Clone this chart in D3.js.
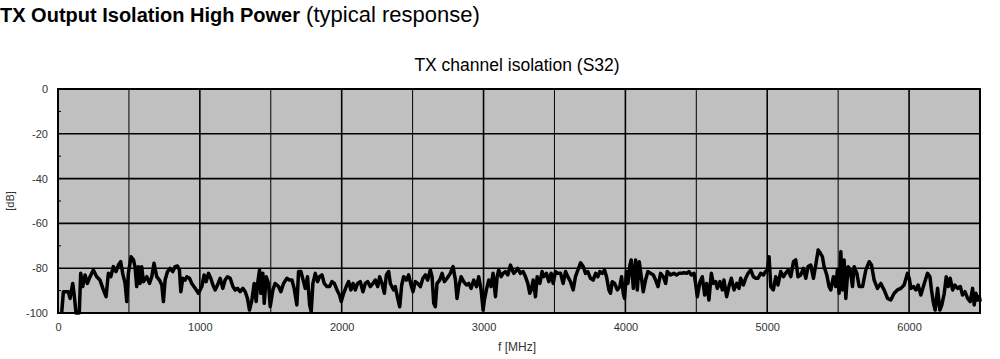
<!DOCTYPE html>
<html>
<head>
<meta charset="utf-8">
<script src="https://cdn.jsdelivr.net/npm/d3@7"></script>
<style>
  body { margin: 0; background: #fff; }
  svg { display: block; font-family: "Liberation Sans", Arial, sans-serif; }
</style>
</head>
<body>
<script>
// S32 isolation trace
var freqMHz = [26, 38, 73, 85, 104, 113, 127, 150, 160, 174, 191, 207, 226, 249, 273, 296, 320, 339, 355, 372,
  390, 409, 426, 442, 456, 473, 485, 496, 515, 532, 543, 555, 567, 579, 590, 602, 626, 645, 661, 677,
  696, 715, 732, 743, 755, 772, 790, 809, 826, 842, 856, 866, 880, 896, 908, 927, 943, 967, 990, 1014,
  1030, 1044, 1061, 1077, 1092, 1108, 1120, 1143, 1162, 1178, 1195, 1214, 1233, 1249, 1266, 1284, 1303, 1320, 1336, 1350,
  1367, 1383, 1397, 1407, 1421, 1430, 1444, 1454, 1468, 1484, 1496, 1515, 1531, 1555, 1571, 1590, 1614, 1632, 1649, 1665,
  1684, 1696, 1713, 1731, 1743, 1759, 1774, 1785, 1797, 1814, 1830, 1844, 1861, 1877, 1896, 1915, 1931, 1948, 1967, 1985,
  1997, 2014, 2032, 2049, 2065, 2080, 2096, 2112, 2131, 2150, 2166, 2183, 2202, 2221, 2237, 2254, 2268, 2284, 2301, 2315,
  2331, 2343, 2366, 2378, 2395, 2409, 2423, 2437, 2456, 2472, 2489, 2503, 2519, 2536, 2555, 2573, 2590, 2606, 2625, 2637,
  2649, 2660, 2672, 2691, 2708, 2724, 2743, 2766, 2785, 2802, 2813, 2825, 2842, 2860, 2879, 2896, 2912, 2931, 2950, 2966,
  2983, 2997, 3006, 3020, 3037, 3053, 3067, 3084, 3096, 3107, 3124, 3138, 3154, 3171, 3190, 3202, 3213, 3225, 3241, 3260,
  3279, 3296, 3312, 3326, 3336, 3350, 3366, 3378, 3397, 3413, 3425, 3444, 3460, 3477, 3491, 3507, 3523, 3543, 3561, 3578,
  3594, 3613, 3632, 3648, 3665, 3684, 3703, 3719, 3735, 3754, 3773, 3790, 3806, 3820, 3837, 3853, 3867, 3884, 3895, 3907,
  3924, 3943, 3961, 3973, 3985, 3994, 4008, 4018, 4032, 4041, 4056, 4072, 4084, 4098, 4112, 4126, 4142, 4159, 4178, 4197,
  4213, 4230, 4248, 4267, 4284, 4295, 4319, 4342, 4361, 4378, 4394, 4413, 4432, 4448, 4465, 4484, 4495, 4507, 4526, 4542,
  4559, 4573, 4589, 4606, 4620, 4637, 4648, 4667, 4684, 4695, 4714, 4730, 4747, 4766, 4785, 4801, 4813, 4832, 4848, 4865,
  4884, 4902, 4919, 4935, 4954, 4973, 4989, 5001, 5013, 5025, 5043, 5060, 5076, 5095, 5114, 5130, 5147, 5166, 5185, 5201,
  5217, 5236, 5255, 5272, 5288, 5307, 5326, 5342, 5359, 5373, 5389, 5401, 5420, 5436, 5448, 5467, 5483, 5495, 5507, 5519,
  5530, 5542, 5554, 5570, 5585, 5601, 5613, 5632, 5648, 5672, 5695, 5719, 5735, 5754, 5777, 5801, 5824, 5848, 5871, 5895,
  5918, 5942, 5965, 5989, 6001, 6013, 6031, 6048, 6064, 6083, 6107, 6130, 6147, 6158, 6172, 6184, 6201, 6217, 6231, 6248,
  6262, 6276, 6290, 6307, 6323, 6342, 6361, 6377, 6394, 6413, 6431, 6448, 6459, 6471, 6483, 6495, 6502];

var s32dB = [-100, -90.5, -90.5, -93.5, -86.8, -91.2, -100, -100, -82.3, -88.2, -83.0, -86.8, -83.8, -80.8, -83.8, -85.3, -89.7, -92.7, -82.3, -83.8,
  -79.3, -81.5, -78.6, -77.1, -82.3, -86.8, -94.9, -82.3, -74.9, -76.3, -79.3, -88.2, -79.3, -86.8, -79.3, -86.0, -83.8, -86.8, -83.8, -77.8,
  -83.8, -85.3, -87.5, -94.9, -85.3, -81.5, -80.1, -81.5, -79.3, -79.0, -80.8, -90.5, -84.5, -85.3, -83.8, -84.5, -86.8, -89.0, -91.2, -88.2,
  -83.0, -86.0, -82.3, -84.5, -87.5, -89.7, -88.2, -84.5, -89.0, -85.3, -83.8, -84.5, -88.2, -89.7, -89.0, -90.5, -89.0, -90.5, -93.5, -98.7,
  -94.2, -86.8, -94.9, -86.8, -80.8, -91.2, -82.3, -95.7, -83.8, -86.8, -97.2, -89.7, -86.8, -88.2, -90.5, -86.8, -84.5, -85.3, -85.3, -89.0,
  -96.4, -81.5, -81.5, -86.0, -89.0, -83.8, -96.4, -99.4, -86.8, -82.3, -86.0, -83.8, -83.0, -86.8, -88.2, -88.2, -86.0, -86.8, -89.7, -92.0,
  -94.9, -91.2, -88.2, -86.0, -89.7, -86.8, -89.7, -86.8, -86.0, -90.5, -86.8, -86.0, -88.2, -86.8, -85.3, -88.2, -83.8, -86.8, -91.2, -83.0,
  -81.5, -86.8, -89.7, -88.2, -93.5, -97.2, -87.5, -83.8, -85.3, -83.0, -87.5, -90.5, -86.0, -86.8, -88.2, -84.5, -83.0, -85.3, -80.8, -83.8,
  -95.7, -97.2, -86.8, -85.3, -82.3, -86.0, -84.5, -82.3, -79.3, -85.3, -93.5, -88.2, -83.8, -86.0, -87.5, -86.8, -89.0, -85.3, -88.2, -83.8,
  -89.7, -98.7, -94.2, -89.7, -85.3, -88.2, -82.3, -92.7, -83.8, -80.8, -83.8, -82.3, -81.5, -83.0, -78.6, -80.8, -82.3, -81.5, -80.1, -82.3,
  -81.5, -83.8, -86.8, -91.2, -89.7, -85.3, -92.7, -83.8, -86.8, -81.5, -83.8, -82.3, -86.0, -82.3, -86.8, -81.5, -82.3, -82.3, -86.8, -81.5,
  -83.8, -86.0, -89.7, -83.8, -80.8, -77.6, -79.3, -82.3, -81.5, -84.5, -85.3, -82.3, -83.8, -81.5, -82.3, -80.8, -83.8, -89.7, -91.2, -86.0,
  -86.8, -89.7, -88.2, -83.8, -91.2, -93.5, -81.5, -86.8, -78.6, -76.3, -89.0, -76.3, -89.7, -77.1, -83.8, -90.5, -85.3, -81.5, -82.3, -83.0,
  -85.3, -88.2, -82.3, -83.8, -86.8, -81.5, -83.0, -82.3, -83.0, -82.3, -82.3, -82.0, -82.3, -81.5, -83.0, -82.3, -86.8, -92.7, -86.0, -83.8,
  -92.0, -86.8, -94.2, -82.3, -86.8, -86.0, -89.0, -86.0, -89.7, -85.3, -92.7, -88.2, -84.5, -89.7, -86.8, -89.0, -84.5, -87.5, -84.5, -82.3,
  -80.8, -83.8, -84.5, -84.5, -82.3, -83.0, -81.5, -80.8, -74.9, -88.2, -89.7, -83.8, -87.5, -81.5, -83.8, -82.3, -80.8, -83.8, -77.1, -76.3,
  -83.8, -83.0, -80.1, -84.5, -79.3, -78.6, -84.5, -78.6, -71.9, -73.1, -74.9, -79.3, -83.0, -88.2, -89.7, -83.8, -88.2, -80.8, -91.2, -72.6,
  -89.7, -76.3, -93.5, -79.3, -80.8, -88.2, -79.3, -82.3, -88.2, -88.2, -80.8, -77.1, -78.6, -85.3, -89.0, -86.8, -89.7, -93.5, -94.2, -91.2,
  -89.7, -89.0, -87.5, -82.3, -84.5, -89.0, -88.2, -89.7, -87.5, -92.0, -86.8, -82.3, -83.8, -89.7, -95.7, -98.7, -89.0, -98.7, -96.4, -91.2,
  -83.8, -88.2, -84.5, -89.7, -87.5, -89.0, -88.2, -92.0, -90.5, -93.5, -94.9, -89.0, -96.4, -91.2, -94.2, -92.7, -94.9];

var xTicks = [0, 1000, 2000, 3000, 4000, 5000, 6000];
var xGrid = [500, 1000, 1500, 2000, 2500, 3000, 3500, 4000, 4500, 5000, 5500, 6000];
var yTicks = [0, -20, -40, -60, -80, -100];
var yMinor = [-10, -30, -50, -70, -90];

var screen = {width: 1000, height: 359};
var margins = {top: 89, right: 20, bottom: 46, left: 58};

var width = screen.width - margins.left - margins.right;
var height = screen.height - margins.top - margins.bottom;

var svg = d3.select("body").append("svg")
  .attr("width", screen.width)
  .attr("height", screen.height);

// page heading
var head = svg.append("text")
  .attr("x", 0)
  .attr("y", 22)
  .attr("fill", "#000");
head.append("tspan")
  .attr("font-weight", "bold")
  .attr("font-size", 20)
  .text("TX Output Isolation High Power");
head.append("tspan")
  .attr("font-size", 22)
  .text(" (typical response)");

var xScale = d3.scaleLinear().domain([0, 6500]).range([0, width]);
var yScale = d3.scaleLinear().domain([-100, 0]).range([height, 0]);

var graph = svg.append("g")
  .attr("transform", "translate(" + margins.left + "," + margins.top + ")");

graph.append("rect")
  .attr("width", width)
  .attr("height", height)
  .attr("fill", "#c0c0c0");

graph.selectAll(".vgrid")
  .data(xGrid)
  .enter()
  .append("line")
  .attr("x1", function(d) { return xScale(d); })
  .attr("x2", function(d) { return xScale(d); })
  .attr("y1", 0)
  .attr("y2", height)
  .attr("stroke", "#000")
  .attr("stroke-width", function(d) { return d % 1000 == 0 ? 1.6 : 1; });

graph.selectAll(".hgrid")
  .data(yTicks.filter(function(d) { return d > -100 && d < 0; }))
  .enter()
  .append("line")
  .attr("x1", 0)
  .attr("x2", width)
  .attr("y1", function(d) { return yScale(d); })
  .attr("y2", function(d) { return yScale(d); })
  .attr("stroke", "#000")
  .attr("stroke-width", 1.6);

graph.selectAll(".yminor")
  .data(yMinor)
  .enter()
  .append("line")
  .attr("x1", 0)
  .attr("x2", 3)
  .attr("y1", function(d) { return yScale(d); })
  .attr("y2", function(d) { return yScale(d); })
  .attr("stroke", "#000")
  .attr("stroke-width", 1);

var trace = d3.line()
  .x(function(d) { return xScale(d[0]); })
  .y(function(d) { return yScale(d[1]); });

graph.append("path")
  .datum(d3.zip(freqMHz, s32dB))
  .attr("d", trace)
  .attr("fill", "none")
  .attr("stroke", "#000")
  .attr("stroke-width", 3.5)
  .attr("stroke-linejoin", "round");

graph.append("rect")
  .attr("width", width)
  .attr("height", height)
  .attr("fill", "none")
  .attr("stroke", "#000")
  .attr("stroke-width", 2);

// axes: labels only, the frame is drawn above
var plain = function(d) { return String(d); };
var xAxis = d3.axisBottom(xScale).tickValues(xTicks).tickSize(0).tickPadding(10).tickFormat(plain);
var yAxis = d3.axisLeft(yScale).tickValues(yTicks).tickSize(0).tickPadding(10).tickFormat(plain);

graph.append("g")
  .attr("transform", "translate(0," + height + ")")
  .call(xAxis)
  .call(function(g) { g.select(".domain").remove(); })
  .selectAll("text")
  .attr("font-family", "Liberation Sans, Arial, sans-serif")
  .attr("font-size", 11)
  .attr("fill", "#333");

graph.append("g")
  .call(yAxis)
  .call(function(g) { g.select(".domain").remove(); })
  .selectAll("text")
  .attr("font-family", "Liberation Sans, Arial, sans-serif")
  .attr("font-size", 11)
  .attr("fill", "#333");

svg.append("text")
  .attr("x", 517)
  .attr("y", 71)
  .attr("text-anchor", "middle")
  .attr("font-size", 17.5)
  .attr("fill", "#000")
  .text("TX channel isolation (S32)");

svg.append("text")
  .attr("x", 517)
  .attr("y", 351)
  .attr("text-anchor", "middle")
  .attr("font-size", 12)
  .attr("fill", "#333")
  .text("f [MHz]");

svg.append("text")
  .attr("transform", "translate(14," + (margins.top + height / 2) + ") rotate(-90)")
  .attr("text-anchor", "middle")
  .attr("font-size", 11)
  .attr("fill", "#333")
  .text("[dB]");
</script>
</body>
</html>
